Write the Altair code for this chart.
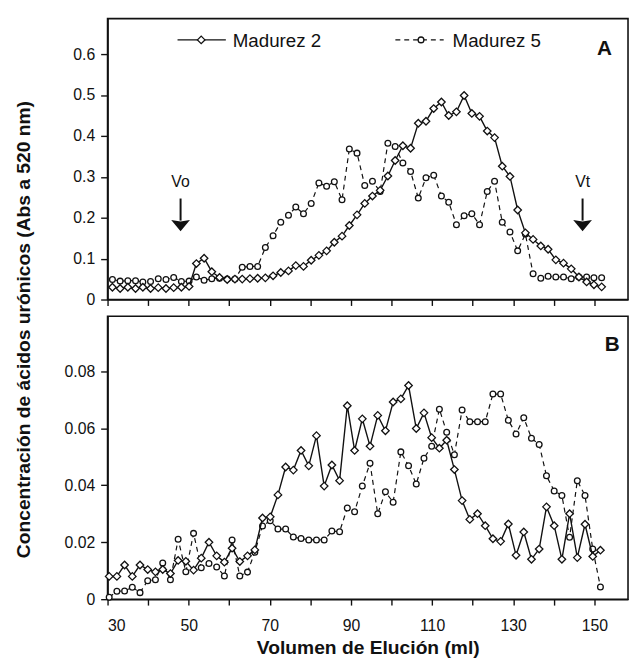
import altair as alt
import pandas as pd

# ---------------- data ----------------
x_a = [31.2, 33.1, 35.0, 36.9, 38.7, 40.6, 42.5, 44.4, 46.3, 48.2, 50.1, 51.9, 53.8, 55.7,
       57.6, 59.5, 61.4, 63.2, 65.1, 67.0, 68.9, 70.8, 72.7, 74.6, 76.4, 78.3, 80.2, 82.1,
       84.0, 85.9, 87.8, 89.6, 91.5, 93.4, 95.3, 97.2, 99.1, 100.9, 102.8, 104.7, 106.6,
       108.5, 110.4, 112.3, 114.1, 116.0, 117.9, 119.8, 121.7, 123.6, 125.4, 127.3, 129.2,
       131.1, 133.0, 134.9, 136.8, 138.6, 140.5, 142.4, 144.3, 146.2, 148.1, 149.9, 151.8]
m2_a = [0.030, 0.027, 0.030, 0.027, 0.030, 0.027, 0.029, 0.027, 0.029, 0.030, 0.032, 0.088,
        0.101, 0.068, 0.054, 0.049, 0.050, 0.050, 0.051, 0.052, 0.053, 0.058, 0.066, 0.070,
        0.083, 0.081, 0.096, 0.108, 0.119, 0.140, 0.155, 0.181, 0.207, 0.235, 0.253, 0.267,
        0.302, 0.340, 0.376, 0.370, 0.431, 0.436, 0.467, 0.483, 0.450, 0.459, 0.499, 0.455,
        0.448, 0.412, 0.396, 0.326, 0.301, 0.219, 0.163, 0.147, 0.131, 0.123, 0.097, 0.089,
        0.075, 0.055, 0.043, 0.036, 0.031]
m5_a = [0.049, 0.045, 0.046, 0.046, 0.043, 0.044, 0.051, 0.049, 0.054, 0.044, 0.045, 0.055,
        0.047, 0.051, 0.052, 0.050, 0.050, 0.079, 0.081, 0.081, 0.127, 0.156, 0.189, 0.206,
        0.226, 0.210, 0.235, 0.285, 0.277, 0.288, 0.244, 0.368, 0.358, 0.279, 0.289, 0.264,
        0.382, 0.374, 0.334, 0.313, 0.248, 0.298, 0.304, 0.253, 0.238, 0.183, 0.205, 0.210,
        0.183, 0.264, 0.289, 0.189, 0.165, 0.119, 0.160, 0.063, 0.052, 0.057, 0.055, 0.055,
        0.051, 0.055, 0.055, 0.053, 0.053]

x_b = [30.4, 32.3, 34.2, 36.1, 38.0, 39.9, 41.8, 43.6, 45.5, 47.4, 49.3, 51.2, 53.1, 55.0,
       56.9, 58.8, 60.7, 62.6, 64.5, 66.3, 68.2, 70.1, 72.0, 73.9, 75.8, 77.7, 79.6, 81.5,
       83.4, 85.3, 87.2, 89.1, 90.9, 92.8, 94.7, 96.6, 98.5, 100.4, 102.3, 104.2, 106.1,
       108.0, 109.9, 111.8, 113.6, 115.5, 117.4, 119.3, 121.2, 123.1, 125.0, 126.9, 128.8,
       130.7, 132.6, 134.5, 136.4, 138.2, 140.1, 142.0, 143.9, 145.8, 147.7, 149.6, 151.5]
m2_b = [0.0080, 0.0080, 0.0120, 0.0080, 0.0120, 0.0104, 0.0096, 0.0104, 0.0090, 0.0136,
        0.0133, 0.0102, 0.0144, 0.0200, 0.0152, 0.0130, 0.0179, 0.0132, 0.0152, 0.0173,
        0.0285, 0.0289, 0.0366, 0.0464, 0.0453, 0.0522, 0.0468, 0.0574, 0.0397, 0.0471,
        0.0416, 0.0679, 0.0522, 0.0633, 0.0537, 0.0645, 0.0591, 0.0692, 0.0703, 0.0750,
        0.0599, 0.0654, 0.0567, 0.0530, 0.0558, 0.0455, 0.0346, 0.0280, 0.0300, 0.0258,
        0.0212, 0.0203, 0.0264, 0.0154, 0.0236, 0.0140, 0.0176, 0.0324, 0.0258, 0.0140,
        0.0300, 0.0146, 0.0263, 0.0150, 0.0172]
m5_b = [0.0007, 0.0028, 0.0029, 0.0042, 0.0023, 0.0065, 0.0068, 0.0127, 0.0068, 0.0210,
        0.0096, 0.0231, 0.0110, 0.0125, 0.0113, 0.0081, 0.0208, 0.0081, 0.0095, 0.0165,
        0.0257, 0.0275, 0.0246, 0.0246, 0.0218, 0.0213, 0.0208, 0.0208, 0.0208, 0.0239,
        0.0237, 0.0320, 0.0307, 0.0397, 0.0477, 0.0300, 0.0377, 0.0340, 0.0517, 0.0468,
        0.0404, 0.0495, 0.0537, 0.0667, 0.0586, 0.0507, 0.0664, 0.0623, 0.0623, 0.0623,
        0.0720, 0.0720, 0.0628, 0.0580, 0.0637, 0.0565, 0.0543, 0.0433, 0.0380, 0.0364,
        0.0217, 0.0416, 0.0364, 0.0176, 0.0043]

series = ["Madurez 2", "Madurez 5"]
marker_labels = ["Vo", "Vt"]
marker_x = [48.0, 147.1]
marker_text_y = [0.274, 0.274]
marker_top = [0.247, 0.247]
marker_bottom = [0.193, 0.193]
marker_head = [0.181, 0.181]
x_ticks = [30, 40, 50, 60, 70, 80, 90, 100, 110, 120, 130, 140, 150]
ya_ticks = [0, 0.1, 0.2, 0.3, 0.4, 0.5, 0.6]
yb_ticks = [0, 0.02, 0.04, 0.06, 0.08]
panel_labels = ["A", "B"]
x_title = "Volumen de Elución (ml)"
y_title = "Concentración de ácidos urónicos (Abs a 520 nm)"

# ---------------- layout / style ----------------
FONT = "Liberation Sans"
INK = "#111111"
W = 528
HA = 285
HB = 287
XDOM = [30, 158.3]
YA_MAX = 0.687
YB_MAX = 0.0993


def x_enc(bottom):
    if bottom:
        return alt.X(
            "x:Q", title=x_title,
            scale=alt.Scale(domain=XDOM, nice=False, zero=False),
            axis=alt.Axis(values=x_ticks, tickSize=6, labelPadding=13,
                          labelExpr="(datum.value - 30) % 20 == 0 ? datum.label : ''",
                          titleX=W / 2, titleY=55, titleAlign="center",
                          titleBaseline="alphabetic", titleFontSize=19.5,
                          titleFontWeight="bold"),
        )
    return alt.X(
        "x:Q", title=None,
        scale=alt.Scale(domain=XDOM, nice=False, zero=False),
        axis=alt.Axis(values=x_ticks, tickSize=6, labels=False),
    )


def y_enc(ymax, ticks, fmt, with_title):
    expr = "datum.value == 0 ? '0' : format(datum.value, '" + fmt + "')"
    if with_title:
        return alt.Y(
            "v:Q", title=y_title,
            scale=alt.Scale(domain=[0, ymax], nice=False, zero=True),
            axis=alt.Axis(values=ticks, labelExpr=expr, tickSize=7, labelPadding=6,
                          titleX=-85, titleY=13, titleAngle=270, titleAlign="center",
                          titleBaseline="middle", titleFontSize=19.5,
                          titleFontWeight="bold"),
        )
    return alt.Y(
        "v:Q", title=None,
        scale=alt.Scale(domain=[0, ymax], nice=False, zero=True),
        axis=alt.Axis(values=ticks, labelExpr=expr, tickSize=7, labelPadding=6),
    )


def series_layers(x, m2, m5, X, Y):
    d2 = pd.DataFrame({"x": x, "v": m2, "s": series[0]})
    d5 = pd.DataFrame({"x": x, "v": m5, "s": series[1]})
    l5 = alt.Chart(d5).mark_line(color=INK, strokeWidth=1.2, strokeDash=[5, 4]).encode(x=X, y=Y)
    p5 = alt.Chart(d5).mark_point(shape="circle", size=34, filled=True, fill="white",
                                  stroke=INK, strokeWidth=1.3, opacity=1).encode(x=X, y=Y)
    l2 = alt.Chart(d2).mark_line(color=INK, strokeWidth=1.4).encode(x=X, y=Y)
    p2 = alt.Chart(d2).mark_point(shape="diamond", size=58, filled=True, fill="white",
                                  stroke=INK, strokeWidth=1.3, opacity=1).encode(x=X, y=Y)
    return [l5, p5, l2, p2]


def panel_label(text, x, y):
    d = pd.DataFrame({"t": [text]})
    return alt.Chart(d).mark_text(font=FONT, fontSize=21, fontWeight="bold", color=INK,
                                  align="center", baseline="alphabetic").encode(
        x=alt.value(x), y=alt.value(y), text="t:N")


# ---------- panel A ----------
XA = x_enc(False)
YA = y_enc(YA_MAX, ya_ticks, ".1f", False)
layers_a = series_layers(x_a, m2_a, m5_a, XA, YA)

mk = pd.DataFrame({"x": marker_x, "label": marker_labels, "ty": marker_text_y,
                   "y1": marker_top, "y2": marker_bottom, "yh": marker_head})
mk_text = alt.Chart(mk).mark_text(font=FONT, fontSize=16, color=INK, align="center",
                                  baseline="alphabetic").encode(
    x=alt.X("x:Q"), y=alt.Y("ty:Q"), text="label:N")
mk_rule = alt.Chart(mk).mark_rule(color=INK, strokeWidth=2).encode(
    x=alt.X("x:Q"), y=alt.Y("y1:Q"), y2="y2:Q")
mk_head = alt.Chart(mk).mark_point(shape="M-1,-0.6L0,-0.42L1,-0.6L0,0.6Z", size=361,
                                   filled=True, fill=INK, strokeWidth=0, opacity=1).encode(
    x=alt.X("x:Q"), y=alt.Y("yh:Q"))

leg2 = pd.DataFrame({"t": [series[0]]})
leg5 = pd.DataFrame({"t": [series[1]]})
leg_layers = [
    alt.Chart(leg2).mark_rule(color=INK, strokeWidth=1.4).encode(
        x=alt.value(71), x2=alt.value(120), y=alt.value(21.6)),
    alt.Chart(leg2).mark_point(shape="diamond", size=58, filled=True, fill="white",
                               stroke=INK, strokeWidth=1.3, opacity=1).encode(
        x=alt.value(95), y=alt.value(21.6)),
    alt.Chart(leg2).mark_text(font=FONT, fontSize=19, color=INK, align="left",
                              baseline="alphabetic").encode(
        x=alt.value(127), y=alt.value(28.5), text="t:N"),
    alt.Chart(leg5).mark_rule(color=INK, strokeWidth=1.2, strokeDash=[5, 4]).encode(
        x=alt.value(292), x2=alt.value(341), y=alt.value(21.6)),
    alt.Chart(leg5).mark_point(shape="circle", size=34, filled=True, fill="white",
                               stroke=INK, strokeWidth=1.3, opacity=1).encode(
        x=alt.value(318), y=alt.value(21.6)),
    alt.Chart(leg5).mark_text(font=FONT, fontSize=19, color=INK, align="left",
                              baseline="alphabetic").encode(
        x=alt.value(350), y=alt.value(28.5), text="t:N"),
]

panel_a = alt.layer(
    *layers_a, mk_rule, mk_head, mk_text, *leg_layers,
    panel_label(panel_labels[0], 504, 37)
).properties(width=W, height=HA)

# ---------- panel B ----------
XB = x_enc(True)
YB = y_enc(YB_MAX, yb_ticks, ".2f", True)
layers_b = series_layers(x_b, m2_b, m5_b, XB, YB)
panel_b = alt.layer(*layers_b, panel_label(panel_labels[1], 512, 35)).properties(
    width=W, height=HB)

chart = alt.vconcat(panel_a, panel_b, spacing=17, bounds="flush").properties(
    padding={"left": 5, "top": 5, "right": 0, "bottom": 0}
).configure_view(
    stroke=INK, strokeWidth=1.6
).configure_axis(
    grid=False, labelFont=FONT, titleFont=FONT, labelFontSize=16, labelColor=INK,
    titleColor=INK, domainColor=INK, domainWidth=1.6, tickColor=INK, tickWidth=1.4
)

chart.save("out.html", embed_options={"renderer": "svg", "actions": False})
